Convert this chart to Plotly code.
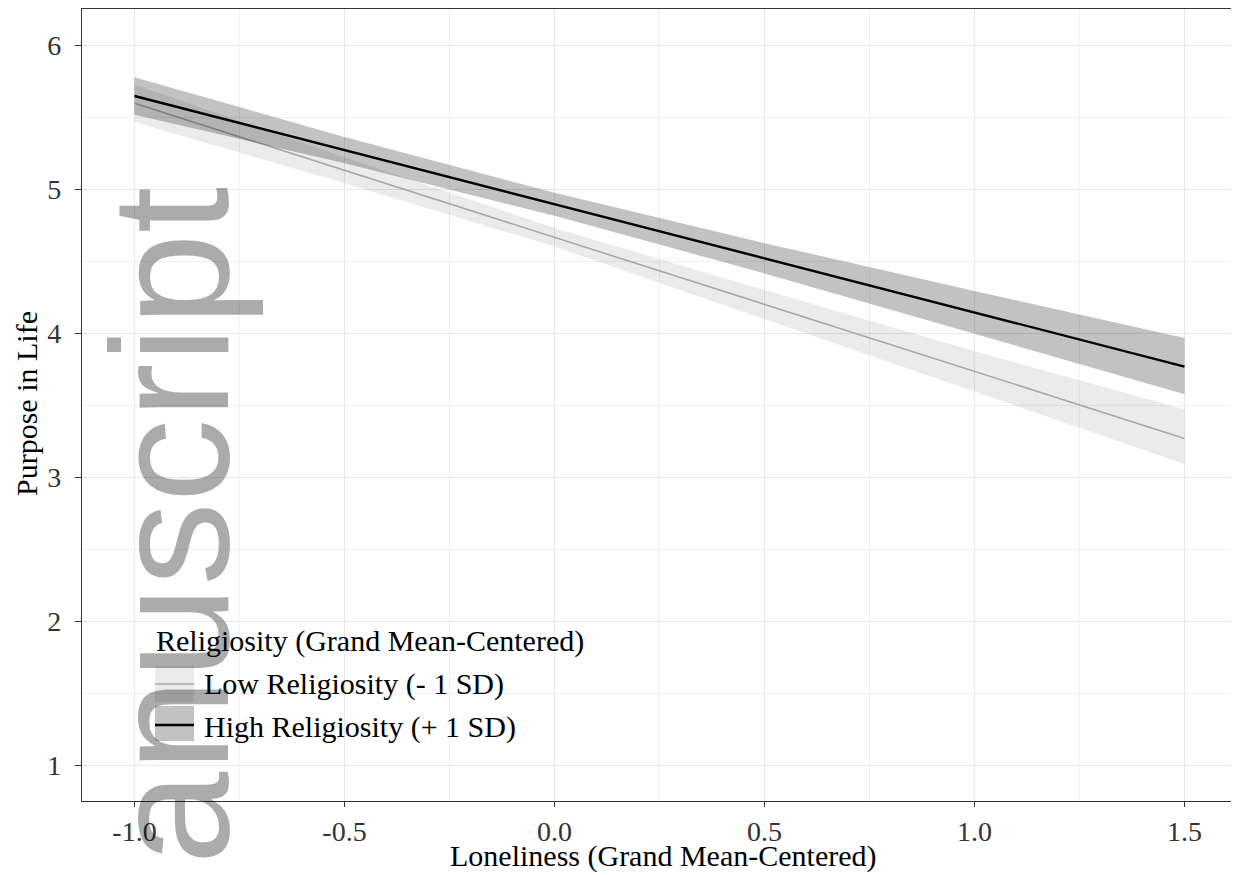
import plotly.graph_objects as go

# ---- data ----
loneliness = [-1.0, -0.5, 0.0, 0.5, 1.0, 1.5]

high_fit = [5.646, 5.270, 4.894, 4.519, 4.143, 3.767]
high_lo = [5.516, 5.179, 4.814, 4.414, 3.994, 3.575]
high_hi = [5.776, 5.361, 4.974, 4.624, 4.292, 3.965]

low_fit = [5.595, 5.130, 4.664, 4.198, 3.733, 3.268]
low_lo = [5.465, 5.040, 4.600, 4.098, 3.593, 3.090]
low_hi = [5.725, 5.220, 4.730, 4.298, 3.873, 3.470]

series_names = ["Low Religiosity (- 1 SD)", "High Religiosity (+ 1 SD)"]
legend_title = "Religiosity (Grand Mean-Centered)"
x_title = "Loneliness (Grand Mean-Centered)"
y_title = "Purpose in Life"
x_ticks = [-1.0, -0.5, 0.0, 0.5, 1.0, 1.5]
x_ticklabels = ["-1.0", "-0.5", "0.0", "0.5", "1.0", "1.5"]
y_ticks = [1, 2, 3, 4, 5, 6]
watermark = "Manuscript"

SERIF = "Liberation Serif, Times New Roman, serif"
# the page body adds an 8px offset; the figure is sized so it fits the window
OFF = 8
W, H = 1231, 867
L, R, T, B = 74, 2, 1, 74
PW, PH = W - L - R, H - T - B

def px(x):
    """page pixel x -> paper fraction"""
    return (x - OFF - L) / PW

def py(y):
    """page pixel y -> paper fraction"""
    return (H - B - (y - OFF)) / PH

LOW_LINE, LOW_FILL = "rgb(168,168,168)", "rgba(0,0,0,0.08)"
HIGH_LINE, HIGH_FILL = "rgb(0,0,0)", "rgba(0,0,0,0.24)"

fig = go.Figure()

def add_group(fit, lo, hi, name, line_color, line_width, fill_color):
    fig.add_trace(go.Scatter(x=loneliness, y=lo, mode="lines",
                             line=dict(width=0, color=fill_color),
                             showlegend=False, hoverinfo="skip"))
    fig.add_trace(go.Scatter(x=loneliness, y=fit, mode="lines",
                             line=dict(width=line_width, color=line_color),
                             fill="tonexty", fillcolor=fill_color,
                             name=name, showlegend=False))
    fig.add_trace(go.Scatter(x=loneliness, y=hi, mode="lines",
                             line=dict(width=0, color=fill_color),
                             fill="tonexty", fillcolor=fill_color,
                             showlegend=False, hoverinfo="skip"))

add_group(low_fit, low_lo, low_hi, series_names[0], LOW_LINE, 1.6, LOW_FILL)
add_group(high_fit, high_lo, high_hi, series_names[1], HIGH_LINE, 2.4, HIGH_FILL)

# ---- legend drawn inside the panel (ggplot style) ----
shapes = [
    dict(type="rect", xref="paper", yref="paper", layer="between",
         x0=px(147), x1=px(588), y0=py(617), y1=py(762),
         fillcolor="white", line=dict(width=0)),
    dict(type="rect", xref="paper", yref="paper",
         x0=px(155), x1=px(194), y0=py(666), y1=py(702),
         fillcolor=LOW_FILL, line=dict(width=0)),
    dict(type="rect", xref="paper", yref="paper",
         x0=px(155), x1=px(194), y0=py(706), y1=py(741),
         fillcolor=HIGH_FILL, line=dict(width=0)),
    dict(type="line", xref="paper", yref="paper",
         x0=px(155), x1=px(194), y0=py(684), y1=py(684),
         line=dict(color=LOW_LINE, width=1.6)),
    dict(type="line", xref="paper", yref="paper",
         x0=px(155), x1=px(194), y0=py(725), y1=py(725),
         line=dict(color=HIGH_LINE, width=2.4)),
]

annotations = [
    dict(text=legend_title, x=px(154), y=py(641), xanchor="left", yanchor="middle"),
    dict(text=series_names[0], x=px(202), y=py(684), xanchor="left", yanchor="middle"),
    dict(text=series_names[1], x=px(202), y=py(727), xanchor="left", yanchor="middle"),
]
for a in annotations:
    a.update(xref="paper", yref="paper", showarrow=False,
             font=dict(family=SERIF, size=30, color="black"))

# axis titles
annotations.append(dict(text=x_title, xref="paper", yref="paper", x=px(664), y=py(856),
                        xanchor="center", yanchor="middle", showarrow=False,
                        font=dict(family=SERIF, size=30, color="black")))
annotations.append(dict(text=y_title, xref="paper", yref="paper", x=px(26), y=py(404),
                        xanchor="center", yanchor="middle", showarrow=False, textangle=-90,
                        font=dict(family=SERIF, size=30, color="black")))

# watermark
annotations.append(dict(text=watermark, xref="paper", yref="paper",
                        x=px(169), y=py(185), xanchor="center", yanchor="top",
                        textangle=-90, showarrow=False,
                        font=dict(family="Liberation Sans, Arial, sans-serif",
                                  size=167, color="rgba(0,0,0,0.33)")))

fig.update_layout(
    width=W, height=H,
    margin=dict(l=L, r=R, t=T, b=B, autoexpand=False),
    paper_bgcolor="white", plot_bgcolor="white",
    font=dict(family=SERIF, color="black"),
    showlegend=False,
    shapes=shapes, annotations=annotations,
    xaxis=dict(range=[-1.125, 1.625], tickvals=x_ticks, ticktext=x_ticklabels,
               automargin=False,
               showgrid=True, gridcolor="#E8E8E8", gridwidth=1.2,
               minor=dict(dtick=0.25, tick0=0, showgrid=True, gridcolor="#F0F0F0", gridwidth=1),
               zeroline=False, showline=True, mirror=True, linecolor="#333333", linewidth=1.2,
               ticks="outside", ticklen=5, tickcolor="#333333", tickwidth=1.2,
               tickfont=dict(family=SERIF, size=28, color="#333333")),
    yaxis=dict(range=[0.75, 6.25], tickvals=y_ticks,
               automargin=False, ticklabelstandoff=8,
               showgrid=True, gridcolor="#E8E8E8", gridwidth=1.2,
               minor=dict(dtick=0.5, tick0=0, showgrid=True, gridcolor="#F0F0F0", gridwidth=1),
               zeroline=False, showline=True, mirror=True, linecolor="#333333", linewidth=1.2,
               ticks="outside", ticklen=6, tickcolor="#333333", tickwidth=1.2,
               tickfont=dict(family=SERIF, size=28, color="#333333")),
)

fig.write_html("out.html")
